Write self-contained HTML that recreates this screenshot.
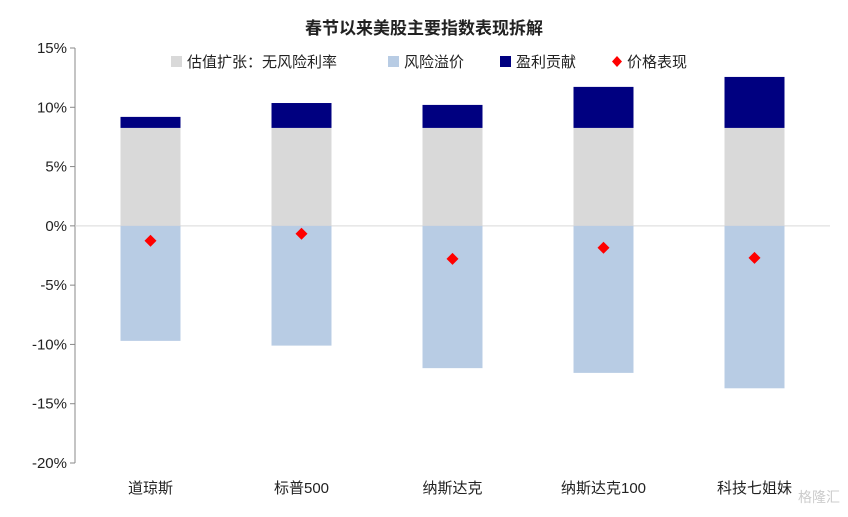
<!DOCTYPE html>
<html><head><meta charset="utf-8"><style>
body{margin:0;background:#fff;}
svg text{font-family:"Liberation Sans","Noto Sans CJK SC",sans-serif;}
</style></head><body>
<svg width="848" height="512" id="c">
<text x="424" y="34" text-anchor="middle" font-size="17" font-weight="bold" fill="#222">春节以来美股主要指数表现拆解</text>
<g font-size="15" fill="#222">
<rect x="171" y="56" width="11" height="11" fill="#d9d9d9"/>
<text x="187" y="67">估值扩张：无风险利率</text>
<rect x="388" y="56" width="11" height="11" fill="#b8cce4"/>
<text x="404" y="67">风险溢价</text>
<rect x="500" y="56" width="11" height="11" fill="#000080"/>
<text x="516" y="67">盈利贡献</text>
<path d="M617 56 L622 61.5 L617 67 L612 61.5 Z" fill="#ff0000"/>
<text x="627" y="67">价格表现</text>
</g>
<g id="plot"></g>
<text x="840" y="502" text-anchor="end" font-size="14" fill="#ccc">格隆汇</text>
</svg>
<script>
const categories=["道琼斯","标普500","纳斯达克","纳斯达克100","科技七姐妹"];
const riskFree=[8.26,8.26,8.26,8.26,8.26];
const riskPremium=[-9.7,-10.1,-12.0,-12.4,-13.7];
const earnings=[0.93,2.1,1.94,3.46,4.3];
const price=[-1.26,-0.67,-2.78,-1.85,-2.7];
const ticks=[15,10,5,0,-5,-10,-15,-20];
const NS="http://www.w3.org/2000/svg";
const g=document.getElementById('plot');
const x0=75,x1=830,yTop=48,yBot=463,vMax=15,vMin=-20;
const y=v=>yTop+(vMax-v)/(vMax-vMin)*(yBot-yTop);
const band=(x1-x0)/categories.length;
const xc=i=>x0+band*(i+0.5);
const bw=60;
function mk(t,a){const e=document.createElementNS(NS,t);for(const k in a)e.setAttribute(k,a[k]);g.appendChild(e);return e;}
let ax=mk('line',{x1:x0,x2:x0,y1:yTop,y2:yBot,stroke:'#888'});


ticks.forEach(t=>{
 const l=mk('line',{x1:x0-5,x2:x0,y1:y(t),y2:y(t),stroke:'#888'});
 
 
 const tx=mk('text',{x:x0-8,y:y(t)+5,'text-anchor':'end','font-size':15,fill:'#222'});
 tx.textContent=t+'%';
 
 
});
let xa=mk('line',{x1:x0,x2:x1,y1:y(0),y2:y(0),stroke:'#d9d9d9'});


categories.forEach((c,i)=>{
 const cx=xc(i);
 const r1=mk('rect',{x:cx-bw/2,y:y(riskFree[i]),width:bw,height:y(0)-y(riskFree[i]),fill:'#d9d9d9'});
 
 
 const top=riskFree[i]+earnings[i];
 const r2=mk('rect',{x:cx-bw/2,y:y(top),width:bw,height:y(riskFree[i])-y(top),fill:'#000080'});
 
 
 const r3=mk('rect',{x:cx-bw/2,y:y(0),width:bw,height:y(riskPremium[i])-y(0),fill:'#b8cce4'});
 
 
 const py=y(price[i]);
 const d=mk('path',{d:`M${cx} ${py-6} L${cx+6} ${py} L${cx} ${py+6} L${cx-6} ${py} Z`,fill:'#ff0000'});
 
 
 const t=mk('text',{x:cx,y:493,'text-anchor':'middle','font-size':15,fill:'#222'});
 t.textContent=c;
 
 
});
</script>
</body></html>
